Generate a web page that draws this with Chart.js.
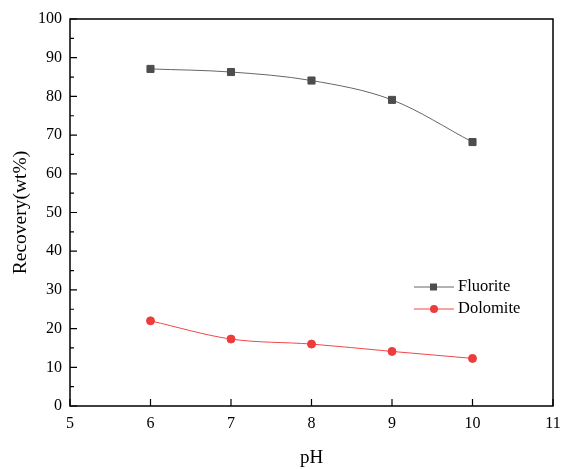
<!DOCTYPE html>
<html>
<head>
<meta charset="utf-8">
<script src="https://cdn.jsdelivr.net/npm/chart.js@4/dist/chart.umd.min.js"></script>
<style>
  html, body { margin: 0; padding: 0; background: #fff; }
  #wrap { width: 562px; height: 469px; }
</style>
</head>
<body>
<div id="wrap"><canvas id="myChart" width="562" height="469"></canvas></div>
<script>
// ===== data =====
const phValues = [6, 7, 8, 9, 10];
const fluorite = [87.1, 86.3, 84.1, 79.1, 68.2];
const dolomite = [22.0, 17.3, 16.0, 14.1, 12.3];
const seriesNames = ['Fluorite', 'Dolomite'];

const FONT = '"Liberation Serif", "DejaVu Serif", serif';

// frame, inward ticks and inside legend
const framePlugin = {
    id: 'frame',
    afterDraw(chart) {
        const { ctx, chartArea: a, scales } = chart;
        const xs = scales.x, ys = scales.y;
        ctx.save();
        ctx.strokeStyle = '#000';
        ctx.lineWidth = 1.5;
        ctx.strokeRect(a.left, a.top, a.right - a.left, a.bottom - a.top);

        ctx.lineWidth = 1.2;
        ctx.beginPath();
        for (let v = 0; v <= 100; v += 5) {
            const y = ys.getPixelForValue(v);
            const len = v % 10 === 0 ? 7 : 4;
            ctx.moveTo(a.left, y);
            ctx.lineTo(a.left + len, y);
        }
        for (let v = 5; v <= 11; v++) {
            const x = xs.getPixelForValue(v);
            ctx.moveTo(x, a.bottom);
            ctx.lineTo(x, a.bottom - 7);
        }
        ctx.stroke();

        // legend
        const items = chart.data.datasets;
        let ly = 287;
        items.forEach(ds => {
            ctx.strokeStyle = ds.borderColor;
            ctx.lineWidth = 1;
            ctx.beginPath();
            ctx.moveTo(414, ly);
            ctx.lineTo(454, ly);
            ctx.stroke();
            ctx.fillStyle = ds.pointBackgroundColor;
            if (ds.pointStyle === 'rect') {
                ctx.fillRect(430, ly - 3.5, 7, 7);
            } else {
                ctx.beginPath();
                ctx.arc(434, ly, 4, 0, Math.PI * 2);
                ctx.fill();
            }
            ctx.fillStyle = '#000';
            ctx.font = '16.5px ' + FONT;
            ctx.textBaseline = 'middle';
            ctx.textAlign = 'left';
            ctx.fillText(ds.label, 458, ly);
            ly += 22;
        });
        ctx.restore();
    }
};

const ctx = document.getElementById('myChart').getContext('2d');
new Chart(ctx, {
    type: 'line',
    data: {
        datasets: [{
            label: seriesNames[0],
            data: phValues.map((x, i) => ({ x: x, y: fluorite[i] })),
            borderColor: '#666666',
            backgroundColor: '#4d4d4d',
            pointBackgroundColor: '#4d4d4d',
            pointBorderColor: '#4d4d4d',
            pointStyle: 'rect',
            pointRadius: 5,
            borderWidth: 1,
            cubicInterpolationMode: 'monotone'
        }, {
            label: seriesNames[1],
            data: phValues.map((x, i) => ({ x: x, y: dolomite[i] })),
            borderColor: '#f04848',
            backgroundColor: '#ee3b3b',
            pointBackgroundColor: '#ee3b3b',
            pointBorderColor: '#ee3b3b',
            pointStyle: 'circle',
            pointRadius: 4,
            borderWidth: 1,
            cubicInterpolationMode: 'monotone'
        }]
    },
    options: {
        responsive: false,
        animation: false,
        layout: { padding: { top: 19, right: 9, left: 0, bottom: 0 } },
        plugins: {
            legend: { display: false },
            tooltip: { enabled: false }
        },
        scales: {
            x: {
                type: 'linear',
                min: 5, max: 11,
                grid: { display: false, drawTicks: false },
                border: { display: false },
                afterFit(s) {
                    s.height = 63;
                    s.paddingRight = 0;
                    s.paddingLeft = 0;
                },
                ticks: {
                    stepSize: 1,
                    padding: 8,
                    color: '#000',
                    font: { family: FONT, size: 16 }
                },
                title: {
                    display: true,
                    text: 'pH',
                    color: '#000',
                    padding: { top: 20, bottom: 0 },
                    font: { family: FONT, size: 19 }
                }
            },
            y: {
                min: 0, max: 100,
                grid: { display: false, drawTicks: false },
                border: { display: false },
                afterFit(s) { s.width = 70; },
                ticks: {
                    stepSize: 10,
                    padding: 8,
                    color: '#000',
                    font: { family: FONT, size: 16 }
                },
                title: {
                    display: true,
                    text: 'Recovery(wt%)',
                    color: '#000',
                    padding: { top: 9, bottom: 4 },
                    font: { family: FONT, size: 19.5 }
                }
            }
        }
    },
    plugins: [framePlugin]
});
</script>
</body>
</html>
